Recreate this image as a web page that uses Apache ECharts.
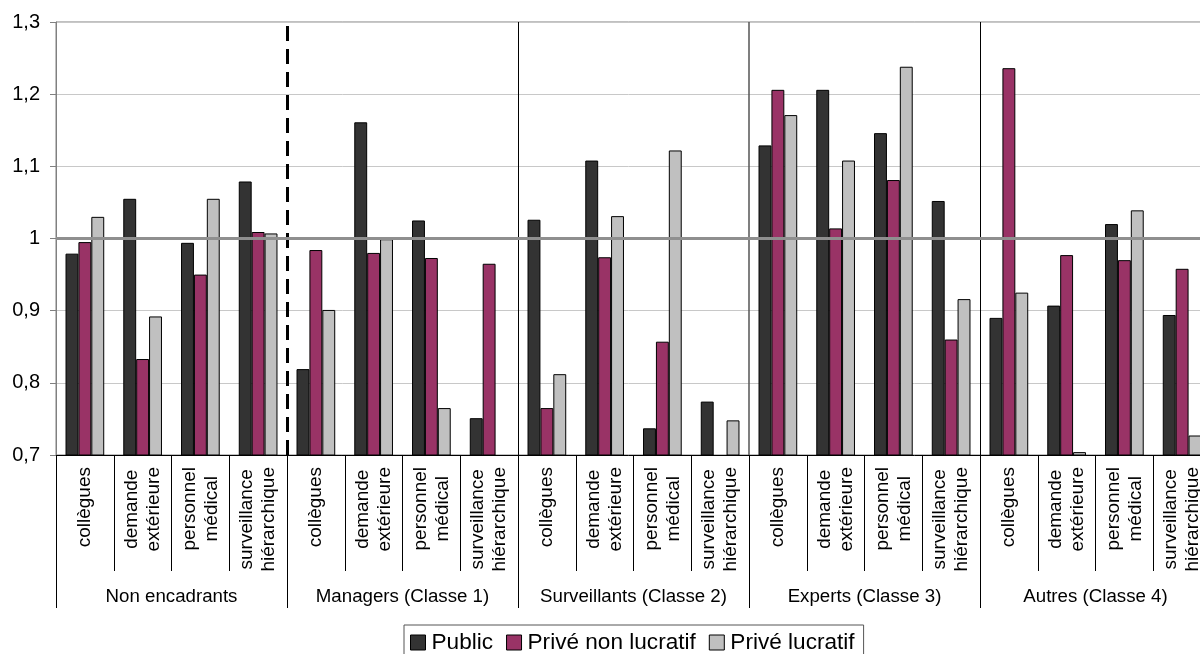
<!DOCTYPE html>
<html>
<head>
<meta charset="utf-8">
<script src="https://cdn.jsdelivr.net/npm/echarts@6/dist/echarts.min.js"></script>
<style>
html,body{margin:0;padding:0;background:#fff;}
#chart{width:1200px;height:654px;}
</style>
</head>
<body>
<div id="chart"></div>
<script>
var categories = [
  'collègues','demande\nextérieure','personnel\nmédical','surveillance\nhiérarchique',
  'collègues','demande\nextérieure','personnel\nmédical','surveillance\nhiérarchique',
  'collègues','demande\nextérieure','personnel\nmédical','surveillance\nhiérarchique',
  'collègues','demande\nextérieure','personnel\nmédical','surveillance\nhiérarchique',
  'collègues','demande\nextérieure','personnel\nmédical','surveillance\nhiérarchique'
];
var groups = ['Non encadrants','Managers (Classe 1)','Surveillants (Classe 2)','Experts (Classe 3)','Autres (Classe 4)'];
var seriesNames = ['Public','Privé non lucratif','Privé lucratif'];
var publicValues = [0.979,1.055,0.994,1.079, 0.819,1.161,1.025,0.751, 1.026,1.108,0.737,0.774, 1.129,1.206,1.146,1.052, 0.890,0.907,1.020,0.894];
var priveNonLucratif = [0.995,0.833,0.950,1.009, 0.984,0.980,0.973,0.965, 0.765,0.974,0.857,null, 1.206,1.014,1.081,0.860, 1.236,0.977,0.970,0.958];
var priveLucratif = [1.030,0.892,1.055,1.007, 0.901,0.999,0.765,null, 0.812,1.031,1.122,0.748, 1.171,1.108,1.238,0.916, 0.925,0.704,1.039,0.727];
var yTicks = [0.7,0.8,0.9,1.0,1.1,1.2,1.3];
var yTickLabels = ['0,7','0,8','0,9','1','1,1','1,2','1,3'];
var referenceValue = 1;
var groupBoundaries = [4, 8, 12, 16];

var FONT = "'Liberation Sans', Arial, sans-serif";
var colors = ['#333333', '#993366', '#c0c0c0'];
var seriesData = [publicValues, priveNonLucratif, priveLucratif];

var chart = echarts.init(document.getElementById('chart'), null, {renderer: 'canvas'});

var series = seriesData.map(function (d, i) {
  return {
    name: seriesNames[i],
    type: 'bar',
    xAxisIndex: 0,
    yAxisIndex: 0,
    data: d,
    barGap: '0%',
    barCategoryGap: '33%',
    itemStyle: {color: colors[i], borderColor: '#000', borderWidth: 1},
    emphasis: {disabled: true},
    animation: false
  };
});

var sepStyles = [
  {color: '#000', width: 3, type: [15, 8]},
  {color: '#000', width: 1, type: 'solid'},
  {color: '#555', width: 1.5, type: 'solid'},
  {color: '#000', width: 1, type: 'solid'}
];
var markData = groupBoundaries.map(function (b, i) {
  return {xAxis: b, lineStyle: sepStyles[i]};
});
markData.push({yAxis: referenceValue, lineStyle: {color: '#8f8f8f', width: 3, type: 'solid'}});

series.push({
  name: 'sep',
  type: 'line',
  xAxisIndex: 2,
  yAxisIndex: 0,
  data: [],
  silent: true,
  animation: false,
  markLine: {
    silent: true,
    symbol: 'none',
    label: {show: false},
    animation: false,
    data: markData
  }
});

chart.setOption({
  backgroundColor: '#fff',
  animation: false,
  textStyle: {fontFamily: FONT},
  grid: {
    left: 56, top: 22, width: 1155, height: 433,
    outerBoundsMode: 'none',
    containLabel: false,
    show: true, borderColor: '#808080', borderWidth: 1, backgroundColor: 'transparent'
  },
  legend: {
    data: seriesNames,
    left: 404, top: 625,
    orient: 'horizontal',
    icon: 'rect',
    itemWidth: 15, itemHeight: 15, itemGap: 13,
    padding: [6, 9, 6, 6],
    borderColor: '#555', borderWidth: 1,
    itemStyle: {borderColor: '#000', borderWidth: 1},
    textStyle: {fontSize: 22.6, color: '#000', fontFamily: FONT, padding: [0, 0, 0, 1]},
    selectedMode: false
  },
  xAxis: [
    {
      type: 'category',
      data: categories,
      position: 'bottom',
      boundaryGap: true,
      axisLine: {show: true, lineStyle: {color: '#000', width: 1}},
      axisTick: {show: true, interval: 0, length: 116, alignWithLabel: false, lineStyle: {color: '#000', width: 1}},
      splitLine: {show: false},
      axisLabel: {
        interval: 0, rotate: 90, margin: 12, color: '#000',
        fontSize: 19, lineHeight: 22, fontFamily: FONT,
        formatter: function (v) {
          return v.split('\n').map(function (s) { return '{c|' + s + '}'; }).join('\n');
        },
        rich: {c: {align: 'center', fontSize: 19, lineHeight: 22, fontFamily: FONT, color: '#000'}}
      }
    },
    {
      type: 'category',
      data: groups,
      position: 'bottom',
      offset: 0,
      boundaryGap: true,
      axisLine: {show: false},
      axisTick: {show: true, interval: 0, length: 153, lineStyle: {color: '#000', width: 1}},
      splitLine: {show: false},
      axisLabel: {interval: 0, margin: 132, fontSize: 18.7, color: '#000', fontFamily: FONT}
    },
    {
      type: 'value',
      min: 0, max: categories.length,
      show: false,
      position: 'top'
    }
  ],
  yAxis: {
    type: 'value',
    min: 0.7, max: 1.3, interval: 0.1,
    axisLine: {show: true, lineStyle: {color: '#808080', width: 1}},
    axisTick: {show: true, inside: false, length: 6, lineStyle: {color: '#808080'}},
    splitLine: {show: true, lineStyle: {color: '#c8c8c8', width: 1}},
    axisLabel: {
      margin: 16, fontSize: 20, color: '#000', fontFamily: FONT,
      formatter: function (v) {
        var best = 0;
        for (var i = 0; i < yTicks.length; i++) {
          if (Math.abs(yTicks[i] - v) < Math.abs(yTicks[best] - v)) best = i;
        }
        return yTickLabels[best];
      }
    }
  },
  series: series
});
</script>
</body>
</html>
